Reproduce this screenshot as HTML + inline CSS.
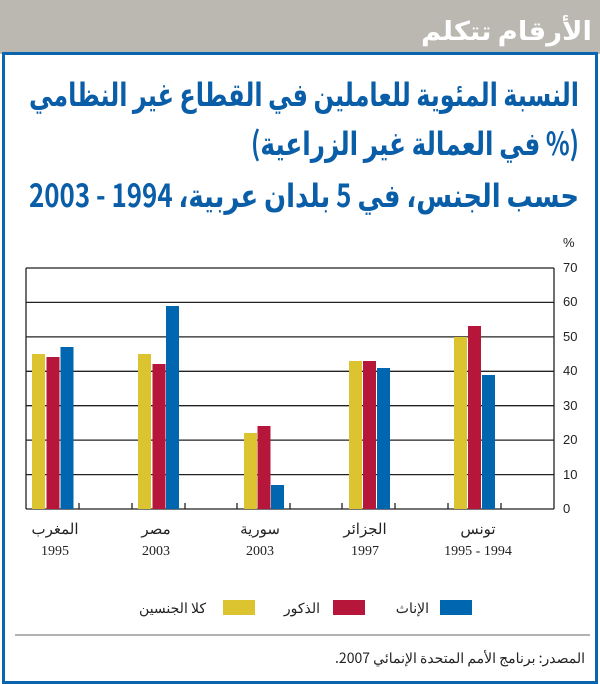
<!DOCTYPE html>
<html><head><meta charset="utf-8"><style>
body{margin:0;width:600px;height:684px;background:#fff;position:relative;overflow:hidden;font-family:"Liberation Sans","Noto Sans CJK SC",sans-serif}
.hdr{position:absolute;left:0;top:0;width:600px;height:54px;background:#bbb8b1}
.box{position:absolute;left:2px;top:52px;width:590px;height:626px;border:3px solid #0a64ae;background:#fff}
</style></head><body>
<div class="hdr"></div>
<div class="box"></div>
<svg style="position:absolute;left:0;top:0" width="600" height="684">
<g font-family="Noto Sans CJK SC,DejaVu Sans,sans-serif" font-weight="bold" direction="rtl" text-anchor="start" lengthAdjust="spacingAndGlyphs">
<text x="592" y="40" font-size="26" fill="#fff" textLength="171" lengthAdjust="spacingAndGlyphs">الأرقام تتكلم</text>
<text x="579" y="106" font-size="32" fill="#0a5ea8" textLength="550" lengthAdjust="spacingAndGlyphs">النسبة المئوية للعاملين في القطاع غير النظامي</text>
<text x="579" y="155" font-size="32" fill="#0a5ea8" textLength="328" lengthAdjust="spacingAndGlyphs">(% في العمالة غير الزراعية)</text>
<text x="579" y="207" font-size="32" fill="#0a5ea8" textLength="550" lengthAdjust="spacingAndGlyphs">حسب الجنس، في 5 بلدان عربية،  1994 - 2003</text>
</g>
<g stroke="#222" stroke-width="1.3">
<line x1="26" y1="268" x2="554" y2="268"/><line x1="26" y1="302.4" x2="554" y2="302.4"/><line x1="26" y1="336.9" x2="554" y2="336.9"/><line x1="26" y1="371.3" x2="554" y2="371.3"/><line x1="26" y1="405.7" x2="554" y2="405.7"/><line x1="26" y1="440.1" x2="554" y2="440.1"/><line x1="26" y1="474.6" x2="554" y2="474.6"/>
<line x1="26" y1="509" x2="554" y2="509"/><line x1="26" y1="268" x2="26" y2="509"/><line x1="554" y1="268" x2="554" y2="509"/>
<line x1="79" y1="503" x2="79" y2="509"/><line x1="132" y1="503" x2="132" y2="509"/><line x1="185" y1="503" x2="185" y2="509"/><line x1="237" y1="503" x2="237" y2="509"/><line x1="290" y1="503" x2="290" y2="509"/><line x1="342" y1="503" x2="342" y2="509"/><line x1="395" y1="503" x2="395" y2="509"/><line x1="448" y1="503" x2="448" y2="509"/><line x1="501" y1="503" x2="501" y2="509"/>
</g>
<g fill="#dcc431"><rect x="32" y="354" width="13" height="155"/><rect x="138" y="354" width="13" height="155"/><rect x="244" y="433" width="13" height="76"/><rect x="349" y="361" width="13" height="148"/><rect x="454" y="337" width="13" height="172"/></g>
<g fill="#b5163a"><rect x="46.5" y="357" width="13" height="152"/><rect x="152.5" y="364" width="13" height="145"/><rect x="257.5" y="426" width="13" height="83"/><rect x="363" y="361" width="13" height="148"/><rect x="468" y="326" width="13" height="183"/></g>
<g fill="#0066b0"><rect x="60.5" y="347" width="13" height="162"/><rect x="166" y="306" width="13" height="203"/><rect x="271" y="485" width="13" height="24"/><rect x="377" y="368" width="13" height="141"/><rect x="482" y="375" width="13" height="134"/></g>
<g font-family="Liberation Sans" font-size="13" fill="#222">
<text x="563" y="247">%</text>
<text x="563" y="272">70</text><text x="563" y="306">60</text><text x="563" y="341">50</text><text x="563" y="375">40</text><text x="563" y="410">30</text><text x="563" y="444">20</text><text x="563" y="479">10</text><text x="563" y="513">0</text>
</g>
<g font-family="Noto Sans CJK SC,sans-serif" font-size="15" fill="#222" text-anchor="middle">
<text x="55" y="534">المغرب</text><text x="156" y="534">مصر</text><text x="260" y="534">سورية</text><text x="365" y="534">الجزائر</text><text x="478" y="534">تونس</text>
</g>
<g font-family="Liberation Serif" font-size="14" fill="#222" text-anchor="middle">
<text x="55" y="555">1995</text><text x="156" y="555">2003</text><text x="260" y="555">2003</text><text x="365" y="555">1997</text><text x="478" y="555">1995 - 1994</text>
</g>
<rect x="440" y="600" width="32" height="15" fill="#0066b0"/>
<rect x="333" y="600" width="32" height="15" fill="#b5163a"/>
<rect x="223" y="600" width="32" height="15" fill="#dcc431"/>
<g font-family="Noto Sans CJK SC,sans-serif" font-size="14" fill="#222" text-anchor="end">
<text x="429" y="613">الإناث</text><text x="320" y="613">الذكور</text><text x="206" y="613">كلا الجنسين</text>
<text x="585" y="663" direction="rtl" text-anchor="start">المصدر: برنامج الأمم المتحدة الإنمائي 2007.</text>
</g>
<line x1="15" y1="635" x2="590" y2="635" stroke="#666" stroke-width="1"/>
</svg>
</body></html>
